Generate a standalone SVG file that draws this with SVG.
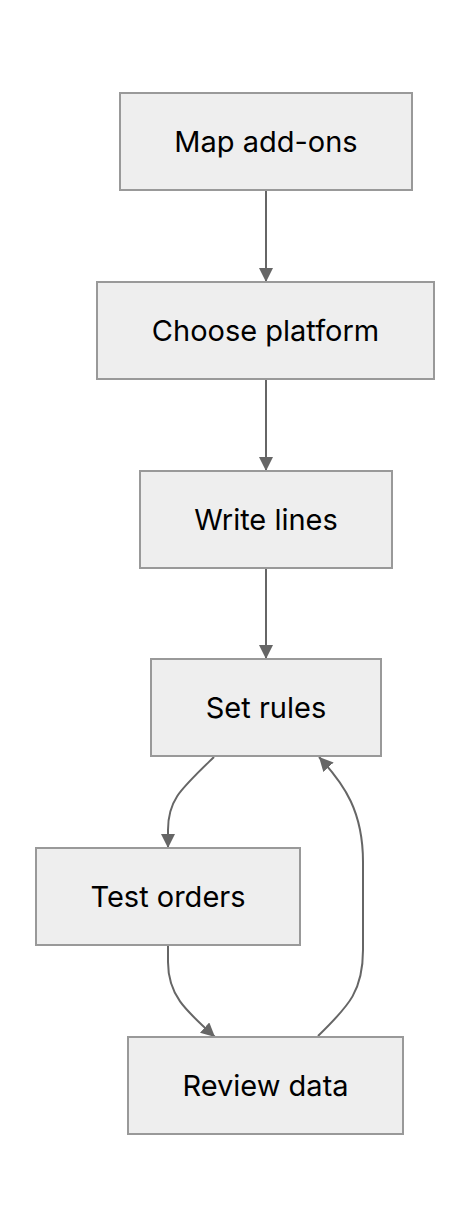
<svg xmlns="http://www.w3.org/2000/svg" width="470" height="1228" viewBox="0 0 470 1228">
<style>
.node rect{fill:#eeeeee;stroke:#999999;stroke-width:2}
.node text{font-family:Inter,"Noto Sans",sans-serif;font-size:29px;fill:#000;text-anchor:middle}
.edge{fill:none;stroke:#666666;stroke-width:2}
</style>
<defs>
<marker id="arrow" viewBox="0 0 10 10" refX="10" refY="5" markerUnits="userSpaceOnUse" markerWidth="14" markerHeight="14" orient="auto">
<path d="M0,0 L10,5 L0,10 z" fill="#666666"/>
</marker>
</defs>
<rect width="470" height="1228" fill="#ffffff"/>
<g id="connectors">
<path class="edge" d="M266,190 L266,282" marker-end="url(#arrow)"/>
<path class="edge" d="M266,379 L266,471" marker-end="url(#arrow)"/>
<path class="edge" d="M266,568 L266,659" marker-end="url(#arrow)"/>
<path class="edge" d="M214,757 C180,790 168,800 168,830 L168,848" marker-end="url(#arrow)"/>
<path class="edge" d="M168,946 L168,962 C168,995 185,1010 215,1037" marker-end="url(#arrow)"/>
<path class="edge" d="M318,1036 C350,1005 363,990 363,950 L363,862 C363,812 345,785 319,757" marker-end="url(#arrow)"/>
</g>
<g id="map-addons" class="node"><rect x="120" y="93" width="292" height="97"/><text x="266" y="151.5">Map add-ons</text></g>
<g id="choose-platform" class="node"><rect x="97" y="282" width="337" height="97"/><text x="265.5" y="340.5">Choose platform</text></g>
<g id="write-lines" class="node"><rect x="140" y="471" width="252" height="97"/><text x="266" y="529.5">Write lines</text></g>
<g id="set-rules" class="node"><rect x="151" y="659" width="230" height="97"/><text x="266" y="717.5">Set rules</text></g>
<g id="test-orders" class="node"><rect x="36" y="848" width="264" height="97"/><text x="168" y="906.5">Test orders</text></g>
<g id="review-data" class="node"><rect x="128" y="1037" width="275" height="97"/><text x="265.5" y="1095.5">Review data</text></g>
</svg>
